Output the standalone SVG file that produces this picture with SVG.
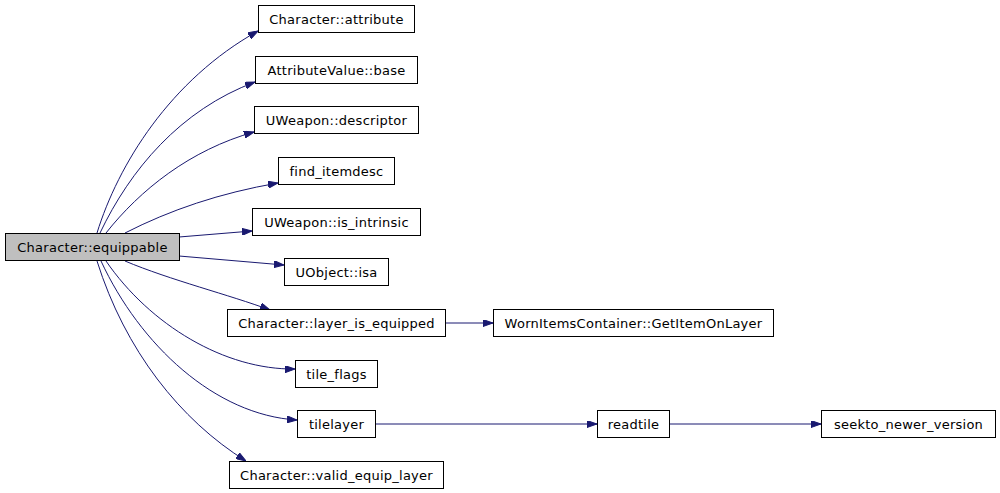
<svg xmlns="http://www.w3.org/2000/svg" width="1000" height="493" viewBox="0 0 1000 493">
<style>
.n rect{fill:#fff;stroke:#000;stroke-width:1}
.n.root rect{fill:#bfbfbf}
.n text{font-family:"DejaVu Sans",sans-serif;font-size:13px;letter-spacing:0.25px;text-anchor:middle;fill:#000}
.e path{fill:none;stroke:#191970;stroke-width:1;marker-end:url(#arr)}
</style>
<defs>
<marker id="arr" viewBox="0 0 10 7" refX="10" refY="3.5" markerWidth="10" markerHeight="7" markerUnits="userSpaceOnUse" orient="auto">
<path d="M0,0 L10,3.5 L0,7 Z" fill="#191970" stroke="#191970"/>
</marker>
</defs>
<rect width="1000" height="493" fill="#fff"/>
<g class="e" id="connectors">
<path d="M97,233 C118,165 170,80 258,31"/>
<path d="M100,233 C130,170 180,110 255,82"/>
<path d="M106,233 C140,190 190,150 254,132"/>
<path d="M125,233 C170,210 220,193 278,183"/>
<path d="M179,237 L252,231"/>
<path d="M179,256 L284,265"/>
<path d="M125,261 C170,280 230,295 270,310"/>
<path d="M106,261 C150,325 225,370 295,369"/>
<path d="M101,261 C140,345 215,415 297,420"/>
<path d="M97,261 C125,350 180,420 246,461"/>
<path d="M445,323 L493,323"/>
<path d="M375,424 L597,424"/>
<path d="M669,424 L821,424"/>
</g>
<g class="n root" id="node-equippable"><rect x="5.5" y="233.5" width="174" height="27"/><text x="92.5" y="252">Character::equippable</text></g>
<g class="n" id="node-attribute"><rect x="258.5" y="5.5" width="156" height="27"/><text x="336.5" y="24">Character::attribute</text></g>
<g class="n" id="node-base"><rect x="255.5" y="56.5" width="162" height="27"/><text x="336.5" y="75">AttributeValue::base</text></g>
<g class="n" id="node-descriptor"><rect x="254.5" y="106.5" width="164" height="27"/><text x="336.5" y="125">UWeapon::descriptor</text></g>
<g class="n" id="node-find-itemdesc"><rect x="278.5" y="157.5" width="116" height="27"/><text x="336.5" y="176">find_itemdesc</text></g>
<g class="n" id="node-is-intrinsic"><rect x="252.5" y="208.5" width="168" height="27"/><text x="336.5" y="227">UWeapon::is_intrinsic</text></g>
<g class="n" id="node-isa"><rect x="284.5" y="258.5" width="104" height="27"/><text x="336.5" y="277">UObject::isa</text></g>
<g class="n" id="node-layer-is-equipped"><rect x="227.5" y="309.5" width="218" height="27"/><text x="336.5" y="328">Character::layer_is_equipped</text></g>
<g class="n" id="node-tile-flags"><rect x="295.5" y="360.5" width="82" height="27"/><text x="336.5" y="379">tile_flags</text></g>
<g class="n" id="node-tilelayer"><rect x="297.5" y="410.5" width="78" height="27"/><text x="336.5" y="429">tilelayer</text></g>
<g class="n" id="node-valid-equip-layer"><rect x="229.5" y="461.5" width="214" height="27"/><text x="336.5" y="480">Character::valid_equip_layer</text></g>
<g class="n" id="node-getitemonlayer"><rect x="493.5" y="309.5" width="280" height="27"/><text x="633.5" y="328">WornItemsContainer::GetItemOnLayer</text></g>
<g class="n" id="node-readtile"><rect x="597.5" y="410.5" width="72" height="27"/><text x="633.5" y="429">readtile</text></g>
<g class="n" id="node-seekto"><rect x="821.5" y="410.5" width="174" height="27"/><text x="908.5" y="429">seekto_newer_version</text></g>
</svg>
